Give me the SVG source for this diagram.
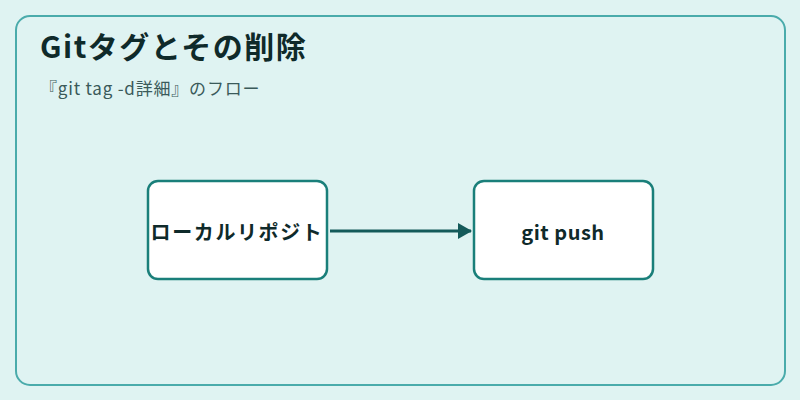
<svg xmlns="http://www.w3.org/2000/svg" width="800" height="400" viewBox="0 0 800 400">
<style>
.node rect{fill:#fff;stroke:#1a7f7a;stroke-width:2.5}
.lbl{font-family:"Noto Sans CJK JP","Noto Sans",sans-serif;font-weight:bold;font-size:20px;fill:#0f2a2a;text-anchor:middle;dominant-baseline:central}
</style>
<defs><marker id="ah" markerWidth="14" markerHeight="16" refX="13" refY="8" orient="auto" markerUnits="userSpaceOnUse" viewBox="0 0 14 16"><path d="M0,0L14,8L0,16Z" fill="#145a5a"/></marker></defs>
<rect width="800" height="400" fill="#dff3f2"/>
<rect x="16" y="16" width="769" height="369" rx="14" fill="#dff3f2" stroke="#4aabab" stroke-width="2"/>
<text x="40" y="58" font-family="'Noto Sans CJK JP','Noto Sans',sans-serif" font-weight="bold" font-size="30" letter-spacing="1.5" fill="#0f2a2a">Gitタグとその削除</text>
<text x="40" y="95" font-family="'Noto Sans CJK JP','Noto Sans',sans-serif" font-size="17" letter-spacing="0.8" fill="#3a5a5a">『git tag -d詳細』のフロー</text>
<g id="connectors"><line x1="330" y1="231" x2="471" y2="231" stroke="#145a5a" stroke-width="3" marker-end="url(#ah)"/></g>
<g id="n1" class="node"><rect x="148" y="181" width="179" height="98" rx="10"/><text class="lbl" x="237" y="231" letter-spacing="1.6">ローカルリポジト</text></g>
<g id="n2" class="node"><rect x="474" y="181" width="179" height="98" rx="10"/><text class="lbl" x="563" y="231" letter-spacing="0.5">git push</text></g>
</svg>
